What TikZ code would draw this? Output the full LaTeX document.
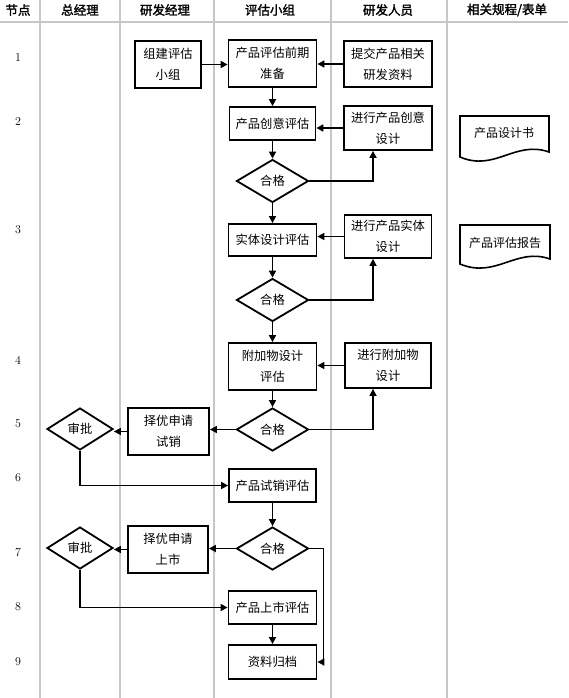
\documentclass[tikz,border=0pt]{standalone}
\usepackage{fontspec}
\newfontfamily\cjk{Noto Sans CJK SC}
\newfontfamily\cjkb[FakeBold=2]{Noto Sans CJK SC}
\usetikzlibrary{arrows.meta,shapes.geometric}
\tikzset{
  box/.style={draw=black, line width=1.8pt, align=center, inner sep=0pt, font=\cjk\fontsize{12.3}{21}\selectfont},
  dia/.style={draw=black, line width=1.8pt, diamond, aspect=1.7, inner sep=0pt, minimum width=72pt, minimum height=43pt, font=\cjk\fontsize{12.3}{14}\selectfont},
  arr/.style={line width=1.6pt, -{Triangle[length=7pt,width=7pt]}},
  gridln/.style={draw=black!22, line width=1.3pt},
  hdr/.style={font=\cjkb\fontsize{12.5}{14}\selectfont, inner sep=0pt},
  num/.style={font=\fontsize{12}{14}\selectfont, inner sep=0pt},
  doc/.style={draw=black, line width=1.6pt},
  doctext/.style={font=\cjk\fontsize{12}{14}\selectfont, inner sep=0pt}
}
\begin{document}
\begin{tikzpicture}[x=1pt,y=-1pt]
\useasboundingbox (0,0) rectangle (568,698);
% grid
\foreach \gx in {40,120,214,331,447} \draw[gridln] (\gx,0) -- (\gx,698);
\draw[gridln] (0,22) -- (568,22);
% headers
\node[hdr] (h0) at (18,10) {节点};
\node[hdr] (h1) at (80,10) {总经理};
\node[hdr] (h2) at (165,10) {研发经理};
\node[hdr] (h3) at (270,10) {评估小组};
\node[hdr] (h4) at (388,10) {研发人员};
\node[hdr] (h5) at (507,10) {相关规程/表单};
% node numbers
\node[num] (n1) at (18,58) {1};
\node[num] (n2) at (18,122) {2};
\node[num] (n3) at (18,230) {3};
\node[num] (n4) at (18,360) {4};
\node[num] (n5) at (18,424) {5};
\node[num] (n6) at (18,478) {6};
\node[num] (n7) at (18,553) {7};
\node[num] (n8) at (18,607) {8};
\node[num] (n9) at (18,662) {9};
% boxes
\node[box, minimum width=66pt, minimum height=47pt] (zj) at (168,64.5) {组建评估\\小组};
\node[box, minimum width=88pt, minimum height=47pt] (prep) at (272.5,63.5) {产品评估前期\\准备};
\node[box, minimum width=88pt, minimum height=46pt] (tj) at (388,64) {提交产品相关\\研发资料};
\node[box, minimum width=86pt, minimum height=33pt] (cy) at (272.5,123.5) {产品创意评估};
\node[box, minimum width=88pt, minimum height=44pt] (cyd) at (388,128) {进行产品创意\\设计};
\node[dia] (q1) at (272.5,181) {合格};
\node[box, minimum width=88pt, minimum height=32pt] (st) at (272.5,240) {实体设计评估};
\node[box, minimum width=87pt, minimum height=43pt] (std) at (388,236.5) {进行产品实体\\设计};
\node[dia] (q2) at (272.5,300) {合格};
\node[box, minimum width=88pt, minimum height=47pt] (fj) at (272.5,366.5) {附加物设计\\评估};
\node[box, minimum width=86pt, minimum height=45pt] (fjd) at (388,365.5) {进行附加物\\设计};
\node[dia] (q3) at (272.5,429.5) {合格};
\node[box, minimum width=81pt, minimum height=47pt] (sel1) at (168.5,431.5) {择优申请\\试销};
\node[dia, minimum width=66pt, minimum height=42pt] (sp1) at (80,429) {审批};
\node[box, minimum width=87pt, minimum height=33pt] (sx) at (272.5,485.5) {产品试销评估};
\node[dia] (q4) at (272.5,548.5) {合格};
\node[box, minimum width=80pt, minimum height=47pt] (sel2) at (168,549.5) {择优申请\\上市};
\node[dia, minimum width=66pt, minimum height=42pt] (sp2) at (80,548) {审批};
\node[box, minimum width=88pt, minimum height=33pt] (ss) at (272.5,607.5) {产品上市评估};
\node[box, minimum width=88pt, minimum height=34pt] (zl) at (272.5,662) {资料归档};
% documents
\draw[doc] (460,116) -- (549,116) -- (549,152) .. controls (515,140) and (495,172) .. (460,157) -- cycle;
\node[doctext] (d1) at (504,133) {产品设计书};
\draw[doc] (460,225) -- (550,225) -- (550,259) .. controls (516,247) and (496,279) .. (460,264) -- cycle;
\node[doctext] (d2) at (505,243) {产品评估报告};
% connectors
\draw[arr] (zj.east) -- (zj.east -| prep.west);
\draw[arr] (tj.west) -- (tj.west -| prep.east);
\draw[arr] (prep) -- (cy);
\draw[arr] (cyd.west) -- (cyd.west -| cy.east);
\draw[arr] (cy) -- (q1);
\draw[arr] (q1.east) -| ([xshift=-15pt]cyd.south);
\draw[arr] (q1) -- (st);
\draw[arr] (std.west) -- (std.west -| st.east);
\draw[arr] (st) -- (q2);
\draw[arr] (q2.east) -| ([xshift=-15pt]std.south);
\draw[arr] (q2) -- (fj);
\draw[arr] (fjd.west) -- (fjd.west -| fj.east);
\draw[arr] (fj) -- (q3);
\draw[arr] (q3.east) -| ([xshift=-15pt]fjd.south);
\draw[arr] (q3.west) -- (q3.west -| sel1.east);
\draw[arr] (sel1.west) -- (sel1.west -| sp1.east);
\draw[arr] (sp1.south) |- (sx.west);
\draw[arr] (sx) -- (q4);
\draw[arr] (q4.west) -- (q4.west -| sel2.east);
\draw[arr] (sel2.west) -- (sel2.west -| sp2.east);
\draw[arr] (sp2.south) |- (ss.west);
\draw[arr] (ss) -- (zl);
\coordinate (c4) at ([xshift=6pt]zl.east);
\draw[arr] (q4.east) -| (c4) -- (zl.east);
\end{tikzpicture}
\end{document}
